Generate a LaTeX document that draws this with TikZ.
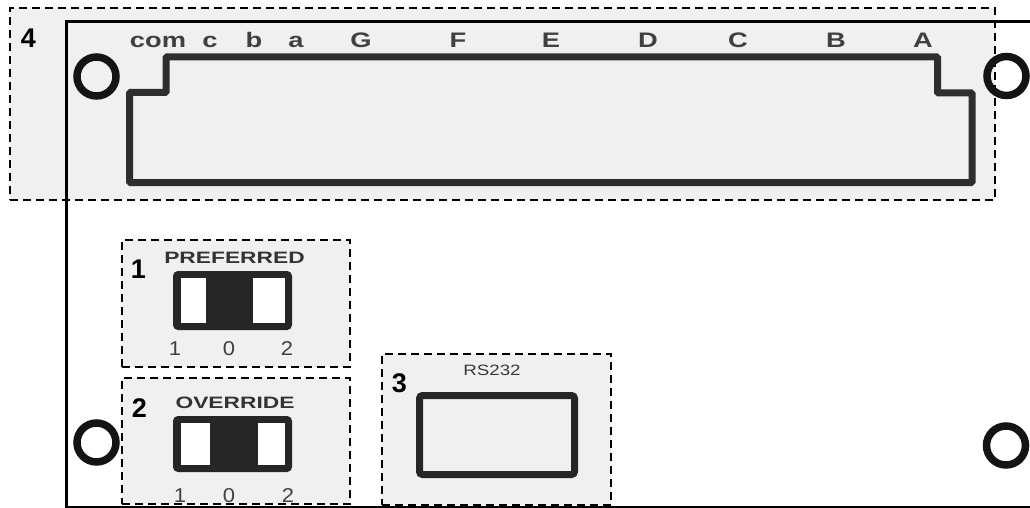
\documentclass[tikz,border=0pt]{standalone}
\usepackage{fontspec}
\setmainfont{Liberation Sans}
\usetikzlibrary{positioning,calc}
\tikzset{
  zoneBox/.style={draw,dash pattern=on 8pt off 5pt,line width=1.4pt,fill=black!6,inner sep=0pt},
  zoneNum/.style={anchor=base,inner sep=0pt,font=\fontsize{27}{27}\selectfont\bfseries},
  boardLine/.style={line width=3pt,black},
  hole/.style={circle,draw=black!92,line width=7.5pt,minimum size=39pt,inner sep=0pt},
  pinLabel/.style={anchor=base,inner sep=0pt,xscale=1.3,text=black!75,font=\fontsize{21}{21}\selectfont\bfseries},
  posLabel/.style={anchor=base,inner sep=0pt,xscale=1.1,text=black!75,font=\fontsize{20}{20}\selectfont},
  swTitle/.style={anchor=base,inner sep=0pt,xscale=1.38,text=black!80,font=\fontsize{16.5}{17}\selectfont\bfseries},
  switchBody/.style={rectangle,draw=black!85,fill=black!85,line width=7pt,rounded corners=2pt,inner sep=0pt},
  switchWin/.style={rectangle,fill=white,inner sep=0pt,minimum height=45pt},
  portFrame/.style={rectangle,draw=black!85,line width=7pt,rounded corners=3pt,inner sep=0pt},
}

\begin{document}
\begin{tikzpicture}[x=1pt,y=-1pt]
\useasboundingbox (0,0) rectangle (1030,508);

% ===== Dashed zones =====
\node[zoneBox, minimum width=985pt, minimum height=192pt] (zoneConn) at (502.5,104) {};
\node[zoneBox, minimum width=228pt, minimum height=127pt] (zonePref) at (236,303.5) {};
\node[zoneBox, minimum width=228pt, minimum height=126pt] (zoneOver) at (236,441) {};
\node[zoneBox, minimum width=229pt, minimum height=151pt] (zoneRs) at (496.5,429.5) {};

% ===== Board edge =====
\coordinate (bTR) at (1030,22);
\coordinate (bTL) at (66,22);
\coordinate (bBL) at (66,507);
\coordinate (bBR) at (1030,507);
\draw[boardLine] (bTR) -- (bTL) -- (bBL) -- (bBR);

% ===== Mounting holes =====
\node[hole] (holeTL) at (96.5,76.5) {};
\node[hole] (holeTR) at (1006.5,76) {};
\node[hole] (holeBL) at (96.5,442.5) {};
\node[hole] (holeBR) at (1006,445.5) {};

% ===== Terminal connector (zone 4) =====
\node[zoneNum] (num4) at (28.5,48) {4};
\draw[black!82, line width=7pt, rounded corners=1pt]
  (129.5,182.5) -- (129.5,92.5) -- (166,92.5) -- (166,57) -- (937.5,57)
  -- (937.5,93) -- (972,93) -- (972,182.5) -- cycle;
\foreach \lbl/\x in {com/158,c/210,b/254,a/296,G/361,F/458,E/551,D/648,C/738,B/836,A/923} {
  \node[pinLabel] (pin\lbl) at (\x,48) {\lbl};
}

% ===== Preferred switch (zone 1) =====
\node[zoneNum] (num1) at (138.5,278) {1};
\node[swTitle] (titlePref) at (234.5,263) {PREFERRED};
\node[switchBody, minimum width=112pt, minimum height=52pt] (swPref) at (232.5,300.5) {};
\node[switchWin, minimum width=25pt] (swPrefL) at (193.5,300.5) {};
\node[switchWin, minimum width=32pt] (swPrefR) at (269,300.5) {};
\node[posLabel] (pref1) at (175,355) {1};
\node[posLabel] (pref0) at (229,355) {0};
\node[posLabel] (pref2) at (287,355) {2};

% ===== Override switch (zone 2) =====
\node[zoneNum] (num2) at (139.5,417) {2};
\node[swTitle] (titleOver) at (235,408) {OVERRIDE};
\node[switchBody, minimum width=112pt, minimum height=49pt] (swOver) at (232.5,444) {};
\node[switchWin, minimum width=29pt, minimum height=42pt] (swOverL) at (195.5,444) {};
\node[switchWin, minimum width=27pt, minimum height=42pt] (swOverR) at (271.5,444) {};
\node[posLabel] (over1) at (180,502) {1};
\node[posLabel] (over0) at (229,502) {0};
\node[posLabel] (over2) at (288,502) {2};

% ===== RS232 port (zone 3) =====
\node[zoneNum] (num3) at (399.5,392) {3};
\node[anchor=base, inner sep=0pt, xscale=1.25, text=black!78, font=\fontsize{15}{15}\selectfont] (rsTitle) at (492,375) {RS232};
\node[portFrame, minimum width=155pt, minimum height=79pt] (rsPort) at (497,435) {};

\end{tikzpicture}
\end{document}
